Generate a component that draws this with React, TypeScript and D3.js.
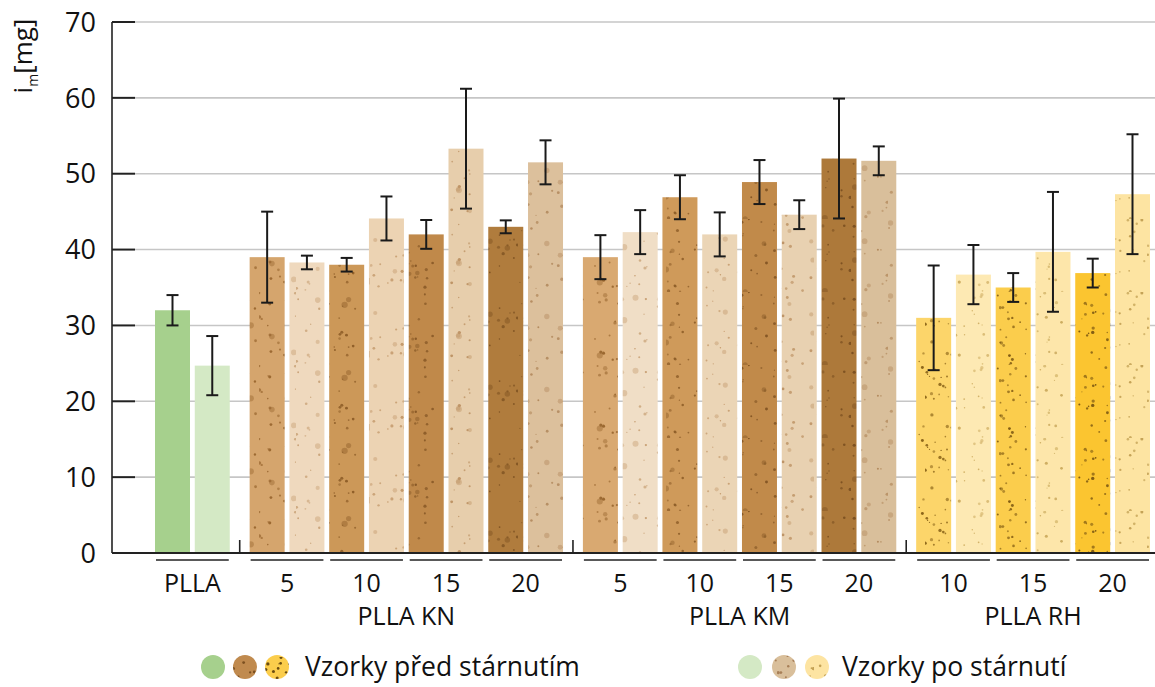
import React from "react";
import * as d3 from "d3";

// groups along the x axis
const familyNames = ["PLLA", "PLLA KN", "PLLA KM", "PLLA RH"];
const groupFamily = [0, 1, 1, 1, 1, 2, 2, 2, 2, 3, 3, 3];
const groupLabels = ["PLLA", "5", "10", "15", "20", "5", "10", "15", "20", "10", "15", "20"];

// before ageing (dark bars)
const beforeMean = [32, 39, 38, 42, 43, 39, 46.9, 48.9, 52, 31, 35, 36.9];
const beforeErr = [2, 6, 0.9, 1.9, 0.85, 2.9, 2.9, 2.9, 7.9, 6.9, 1.9, 1.9];
// after ageing (light bars)
const afterMean = [24.7, 38.3, 44.1, 53.3, 51.5, 42.3, 42, 44.6, 51.7, 36.7, 39.7, 47.3];
const afterErr = [3.9, 0.9, 2.9, 7.9, 2.9, 2.9, 2.9, 1.9, 1.9, 3.9, 7.9, 7.9];

const beforeColors = [
  "#a6d08d", "#d5a56d", "#cc9858", "#c0894a", "#b07c3d",
  "#d9a971", "#cf9a5a", "#c18a4a", "#ad793a",
  "#fcd56a", "#fbcd4c", "#fbc530",
];
const afterColors = [
  "#d4e9c5", "#efd9be", "#ecd3b3", "#e7ceac", "#dcc09c",
  "#f0dec6", "#ebd5b6", "#e8d1b1", "#d9bf9b",
  "#fde9b3", "#fde6aa", "#fde4a2",
];
const beforeDots = ["none", "#9a672f", "#8f5e28", "#855624", "#7c5020", "#9a672f", "#8f5e28", "#855624", "#7c5020", "#8a6418", "#7f5a12", "#7a5610"];
const afterDots = ["none", "#c79f73", "#c49a6c", "#be9466", "#b38a5e", "#c79f73", "#c49a6c", "#be9466", "#b38a5e", "#cfae62", "#c9a85a", "#c4a255"];

const yTicks = [0, 10, 20, 30, 40, 50, 60, 70];

const W = 1155;
const H = 687;
const FONT = "'Open Sans', 'Noto Sans', sans-serif";
const famGap = 0.38;
const barW = 35;

const y = d3.scaleLinear().domain([0, 70]).range([553, 22]);
const slot = (g: number, k: number) => 2 * g + k + groupFamily[g] * famGap;
const x = d3.scaleLinear().domain([0, 23 + 3 * famGap]).range([155, 1115]);

// texture speckles (decoration only, seeded so it's stable)
function dots(seed: number, w: number, h: number, n: number, big = 0) {
  const rnd = d3.randomLcg(seed);
  const out = d3.range(n).map(() => ({ cx: rnd() * w, cy: rnd() * h, r: 0.6 + rnd() * 1.1, o: 0.55 + rnd() * 0.45 }));
  const extra = d3.range(big).map(() => ({ cx: rnd() * w, cy: rnd() * h, r: 2 + rnd() * 1.2, o: 0.45 }));
  return out.concat(extra);
}

const Pattern: React.FC<{ id: string; fill: string; dot: string; seed: number; n: number; big?: number }> = ({ id, fill, dot, seed, n, big = 0 }) => (
  <pattern id={id} patternUnits="userSpaceOnUse" width={37} height={73}>
    <rect width={37} height={73} fill={fill} />
    {dot !== "none" &&
      dots(seed, 37, 73, n, big).map((d, i) => (
        <circle key={i} cx={d.cx} cy={d.cy} r={d.r} fill={dot} opacity={d.o} />
      ))}
  </pattern>
);

export default function App() {
  const bars: { x: number; v: number; e: number; fill: string }[] = [];
  groupLabels.forEach((_, g) => {
    bars.push({ x: x(slot(g, 0)), v: beforeMean[g], e: beforeErr[g], fill: `url(#pb${g})` });
    bars.push({ x: x(slot(g, 1)), v: afterMean[g], e: afterErr[g], fill: `url(#pa${g})` });
  });

  const famSpan = familyNames.map((_, f) => {
    const gs = groupFamily.map((ff, i) => (ff === f ? i : -1)).filter((i) => i >= 0);
    return [x(slot(gs[0], 0)), x(slot(gs[gs.length - 1], 1)) + barW];
  });

  return (
    <svg width={W} height={H} style={{ position: "absolute", left: 0, top: 0, background: "#fff" }} fontFamily={FONT}>
      <defs>
        {groupLabels.map((_, g) => (
          <Pattern key={"b" + g} id={`pb${g}`} fill={beforeColors[g]} dot={beforeDots[g]} seed={g + 1} n={g >= 9 ? 22 : 14} big={g >= 9 ? 0 : 2} />
        ))}
        {groupLabels.map((_, g) => (
          <Pattern key={"a" + g} id={`pa${g}`} fill={afterColors[g]} dot={afterDots[g]} seed={g + 101} n={g >= 9 ? 16 : 10} big={g >= 9 ? 0 : 3} />
        ))}
        <pattern id="legB" patternUnits="userSpaceOnUse" width={37} height={73}>
          <rect width={37} height={73} fill="#c08a4e" />
          {dots(7, 37, 73, 30).map((d, i) => <circle key={i} cx={d.cx} cy={d.cy} r={d.r} fill="#7c5020" />)}
        </pattern>
        <pattern id="legY" patternUnits="userSpaceOnUse" width={37} height={73}>
          <rect width={37} height={73} fill="#fbcd4c" />
          {dots(9, 37, 73, 30).map((d, i) => <circle key={i} cx={d.cx} cy={d.cy} r={d.r} fill="#6b4c10" />)}
        </pattern>
        <pattern id="legBL" patternUnits="userSpaceOnUse" width={37} height={73}>
          <rect width={37} height={73} fill="#d9bf9b" />
          {dots(11, 37, 73, 24).map((d, i) => <circle key={i} cx={d.cx} cy={d.cy} r={d.r} fill="#a88058" />)}
        </pattern>
        <pattern id="legYL" patternUnits="userSpaceOnUse" width={37} height={73}>
          <rect width={37} height={73} fill="#fde4a2" />
          {dots(13, 37, 73, 24).map((d, i) => <circle key={i} cx={d.cx} cy={d.cy} r={d.r} fill="#c4a255" />)}
        </pattern>
      </defs>

      {/* grid + ticks */}
      {yTicks.map((t) => (
        <g key={t}>
          {t > 0 && <line x1={135} x2={W} y1={y(t)} y2={y(t)} stroke="#c6c6c6" strokeWidth={1.6} />}
          <line x1={112} x2={135} y1={y(t)} y2={y(t)} stroke="#222" strokeWidth={2} />
          <text x={96} y={y(t)} dy="0.36em" textAnchor="end" fontSize={27} fill="#111">{t}</text>
        </g>
      ))}
      <line x1={112} x2={112} y1={y(70)} y2={y(0)} stroke="#222" strokeWidth={1.6} />

      {/* y label */}
      <text transform="translate(32,56) rotate(-90)" textAnchor="middle" fontSize={26} fill="#111">
        i<tspan fontSize={14} dy={6}>m</tspan><tspan dy={-6}>[mg]</tspan>
      </text>

      {/* bars */}
      {bars.map((b, i) => (
        <rect key={i} x={b.x} y={y(b.v)} width={barW} height={y(0) - y(b.v)} fill={b.fill} />
      ))}

      {/* error bars */}
      {bars.map((b, i) => {
        const cx = b.x + barW / 2;
        return (
          <g key={i} stroke="#1a1a1a" strokeWidth={2}>
            <line x1={cx} x2={cx} y1={y(b.v + b.e)} y2={y(b.v - b.e)} />
            <line x1={cx - 6} x2={cx + 6} y1={y(b.v + b.e)} y2={y(b.v + b.e)} />
            <line x1={cx - 6} x2={cx + 6} y1={y(b.v - b.e)} y2={y(b.v - b.e)} />
          </g>
        );
      })}

      {/* baseline */}
      <line x1={112} x2={W} y1={y(0)} y2={y(0)} stroke="#222" strokeWidth={2.2} />

      {/* family dividers */}
      {famSpan.slice(1).map((s, f) => {
        const dx = (famSpan[f][1] + s[0]) / 2;
        return <line key={f} x1={dx} x2={dx} y1={y(0) - 13} y2={y(0)} stroke="#222" strokeWidth={1.6} />;
      })}

      {/* group underlines and labels */}
      {groupLabels.map((lab, g) => {
        const x0 = x(slot(g, 0));
        const x1 = x(slot(g, 1)) + barW;
        return (
          <g key={g}>
            <line x1={x0 + 1} x2={x1 - 1} y1={560} y2={560} stroke="#222" strokeWidth={1.6} />
            <text x={(x0 + x1) / 2} y={592} textAnchor="middle" fontSize={25} fill="#111">{lab}</text>
          </g>
        );
      })}
      {familyNames.slice(1).map((name, i) => {
        const s = famSpan[i + 1];
        return (
          <text key={name} x={(s[0] + s[1]) / 2} y={625} textAnchor="middle" fontSize={25} fill="#111">{name}</text>
        );
      })}

      {/* legend */}
      <g>
        <circle cx={213} cy={667} r={12} fill="#a6d08d" />
        <circle cx={245} cy={667} r={12} fill="url(#legB)" />
        <circle cx={277} cy={667} r={12} fill="url(#legY)" />
        <text x={305} y={676} fontSize={26.5} fill="#111">Vzorky před stárnutím</text>
        <circle cx={750} cy={667} r={12} fill="#d4e9c5" />
        <circle cx={784} cy={667} r={12} fill="url(#legBL)" />
        <circle cx={817} cy={667} r={12} fill="url(#legYL)" />
        <text x={842} y={676} fontSize={26.5} fill="#111">Vzorky po stárnutí</text>
      </g>
    </svg>
  );
}
